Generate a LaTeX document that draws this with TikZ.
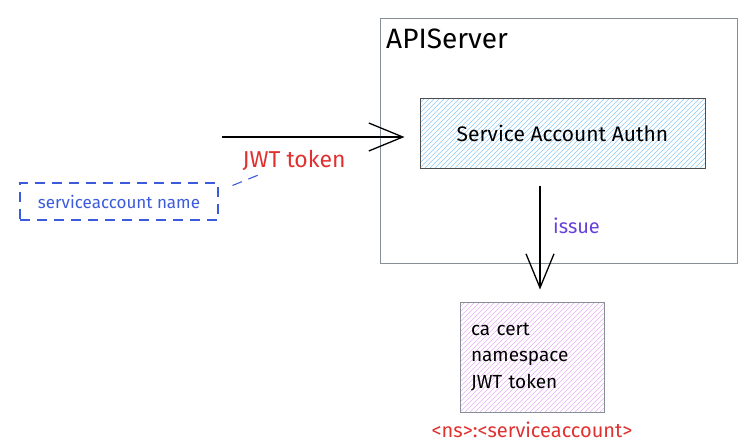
\documentclass[tikz,border=0pt]{standalone}
\usepackage{fontspec}
\setmainfont{Fira Sans}
\usetikzlibrary{arrows.meta,positioning}

\definecolor{sketchred}{HTML}{E03131}
\definecolor{sketchblue}{HTML}{3B5BDB}
\definecolor{sketchpurple}{HTML}{6741D9}
\definecolor{hatchblue}{HTML}{8CC8F5}
\definecolor{hatchpurple}{HTML}{E8B0F5}
\definecolor{framegray}{HTML}{868E96}

\tikzset{
    box/.style={draw=black!70, line width=1pt, inner sep=0pt},
    hatched/.style={path picture={
        \foreach \i in {-300,-295,...,300} {
            \draw[#1, line width=0.65pt] ([xshift=\i pt]path picture bounding box.south west) -- ++(300pt,300pt);
        }
    }},
    flow/.style={-{Straight Barb[length=34pt,width=28pt]}, line width=1.3pt},
    link/.style={sketchblue, line width=1.1pt, dash pattern=on 10pt off 7pt},
    note/.style={inner sep=0pt}
}

\begin{document}
\begin{tikzpicture}[x=1pt, y=-1pt]

    \useasboundingbox (0,0) rectangle (754,445);

    % apiserver frame
    \node[box, draw=framegray, minimum width=357pt, minimum height=245pt] (api) at (558.5,140.5) {};
    \node[anchor=north west, inner sep=0pt, font=\fontsize{28}{32}\selectfont]
        (apilabel) at (386,29) {APIServer};

    % authn
    \node[box, hatched=hatchblue, minimum width=285pt, minimum height=70pt,
          font=\fontsize{21}{24}\selectfont] (authn) at (562.5,133) {Service Account Authn};

    % service account
    \node[draw, link, inner sep=0pt, minimum width=198pt, minimum height=37pt,
          font=\fontsize{17}{20}\selectfont, text=sketchblue] (sa) at (119,201.5) {serviceaccount name};

    % issued secret
    \node[box, draw=framegray, hatched=hatchpurple, minimum width=144pt, minimum height=110pt,
          align=left, text width=122pt, font=\fontsize{19}{26.5}\selectfont] (cert) at (532,357)
        {ca cert\\namespace\\JWT token};
    \node[note, text=sketchred, below=9pt of cert, font=\fontsize{20}{24}\selectfont] (secret) {<ns>:<serviceaccount>};

    % token in
    \coordinate (in) at (222,137);
    \draw[flow, shorten >=15pt] (in) -- (in -| authn.west);
    \node[note, text=sketchred, font=\fontsize{23}{26}\selectfont] (token) at (294,160) {JWT token};
    \draw[link] ([xshift=14pt,yshift=-3pt]sa.north east) -- ([xshift=20pt,yshift=-3pt]token.south west);

    % issue
    \draw[flow, shorten <=17pt, shorten >=12pt] ([xshift=-22.5pt]authn.south) -- ([xshift=-22.5pt]authn.south |- cert.north);
    \node[note, text=sketchpurple, anchor=west, font=\fontsize{20}{24}\selectfont] (issue) at (553,226) {issue};

\end{tikzpicture}
\end{document}
